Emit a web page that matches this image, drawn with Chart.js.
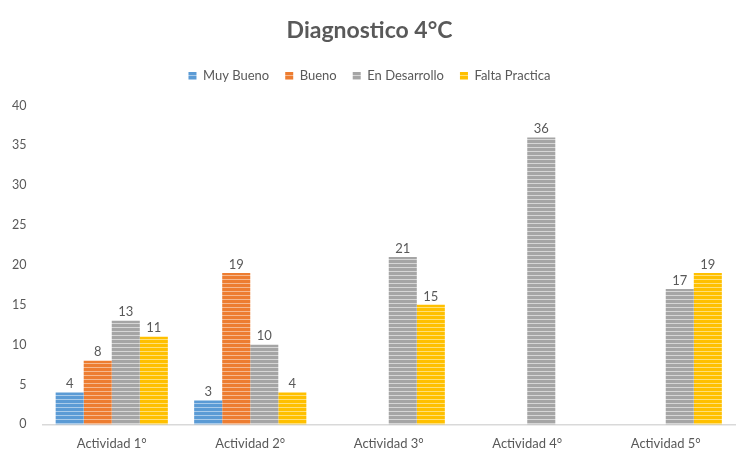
<!DOCTYPE html>
<html lang="es">
<head>
<meta charset="UTF-8" />
<title>Diagnostico 4°C</title>
<script src="https://cdn.jsdelivr.net/npm/chart.js"></script>
<style>
  html, body { margin: 0; padding: 0; background: #fff; }
  #wrap { width: 738px; height: 465px; }
</style>
</head>
<body>
<div id="wrap"><canvas id="myChart"></canvas></div>
<script>
// datos
const categorias = ['Actividad 1°', 'Actividad 2°', 'Actividad 3°', 'Actividad 4°', 'Actividad 5°'];
const muyBueno = [4, 3, null, null, null];
const bueno = [8, 19, null, null, null];
const enDesarrollo = [13, 10, 21, 36, 17];
const faltaPractica = [11, 4, 15, null, 19];
const yTicks = [0, 5, 10, 15, 20, 25, 30, 35, 40];

const FONT = 'Lato, "Noto Sans", sans-serif';

// relleno rayado horizontal como en el original
function stripes(color, line) {
  const c = document.createElement('canvas');
  c.width = 4; c.height = 4;
  const ctx = c.getContext('2d');
  ctx.fillStyle = color;
  ctx.fillRect(0, 0, 4, 4);
  ctx.fillStyle = line;
  ctx.fillRect(0, 3, 4, 1);
  return ctx.createPattern(c, 'repeat');
}

const valueLabels = {
  id: 'valueLabels',
  afterDatasetsDraw(chart) {
    const ctx = chart.ctx;
    ctx.save();
    ctx.font = '13px ' + FONT;
    ctx.fillStyle = '#595959';
    ctx.textAlign = 'center';
    ctx.textBaseline = 'bottom';
    chart.data.datasets.forEach(function (ds, i) {
      const meta = chart.getDatasetMeta(i);
      meta.data.forEach(function (bar, j) {
        if (ds.data[j] == null) return;
        ctx.fillText(ds.data[j], bar.x, bar.y - 2);
      });
    });
    ctx.restore();
  }
};

// más espacio bajo la leyenda
const legendGap = {
  id: 'legendGap',
  beforeInit(chart) {
    const fit = chart.legend.fit;
    chart.legend.fit = function () {
      fit.call(this);
      this.height += 13;
    };
  }
};

const data = {
  labels: categorias,
  datasets: [
    { label: 'Muy Bueno', data: muyBueno, backgroundColor: stripes('#5b9bd5', '#a9cbea') },
    { label: 'Bueno', data: bueno, backgroundColor: stripes('#ed7d31', '#f6b98f') },
    { label: 'En Desarrollo', data: enDesarrollo, backgroundColor: stripes('#a5a5a5', '#d6d6d6') },
    { label: 'Falta Practica', data: faltaPractica, backgroundColor: stripes('#ffc000', '#ffe07a') }
  ]
};

const config = {
  type: 'bar',
  data,
  plugins: [valueLabels, legendGap],
  options: {
    responsive: true,
    maintainAspectRatio: false,
    animation: false,
    layout: { padding: { left: 4, right: 3, top: 9, bottom: 9 } },
    datasets: { bar: { barPercentage: 1, categoryPercentage: 0.81, borderWidth: 0 } },
    plugins: {
      title: {
        display: true,
        text: 'Diagnostico 4°C',
        color: '#595959',
        font: { family: FONT, size: 23, weight: 'bold' },
        padding: { top: 8, bottom: 9 }
      },
      legend: {
        position: 'top',
        labels: {
          boxWidth: 8, boxHeight: 8,
          color: '#595959',
          font: { family: FONT, size: 13 },
          padding: 16
        }
      },
      tooltip: { enabled: false }
    },
    scales: {
      x: {
        grid: { display: false },
        border: { display: true, color: '#d9d9d9', width: 1.5 },
        ticks: { color: '#595959', font: { family: FONT, size: 13 }, padding: 4 }
      },
      y: {
        min: 0, max: 40,
        afterBuildTicks(axis) { axis.ticks = yTicks.map(v => ({ value: v })); },
        grid: { display: false },
        border: { display: false },
        ticks: { color: '#595959', font: { family: FONT, size: 12.5 }, padding: 8 }
      }
    }
  }
};

new Chart(document.getElementById('myChart'), config);
</script>
</body>
</html>
